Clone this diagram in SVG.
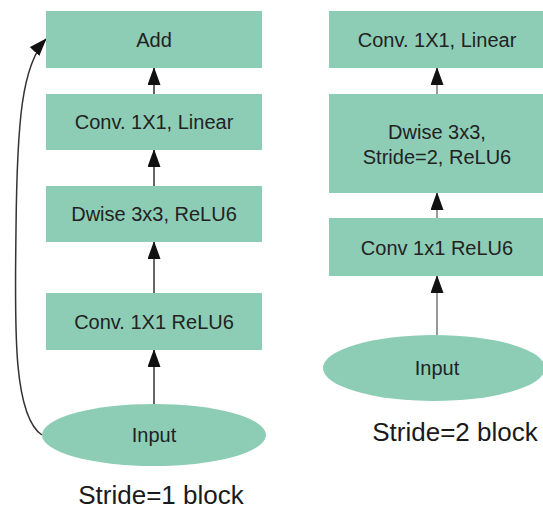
<svg xmlns="http://www.w3.org/2000/svg" width="543" height="509" viewBox="0 0 543 509">
  <style>
    .box { fill: #8dcdb6; }
    .lbl { font-family: "Liberation Sans", Arial, sans-serif; font-size: 20px; fill: #222; text-anchor: middle; dominant-baseline: central; }
    .cap { font-family: "Liberation Sans", Arial, sans-serif; font-size: 26px; fill: #1a1a1a; text-anchor: middle; }
    .edge { fill: none; stroke: #333; stroke-width: 1.5; }
    .edge2 { fill: none; stroke: #777; stroke-width: 1.5; }
  </style>
  <defs>
    <marker id="head" viewBox="0 0 18 13" refX="17" refY="6.5" markerWidth="18" markerHeight="13" markerUnits="userSpaceOnUse" orient="auto">
      <path d="M0,0 L18,6.5 L0,13 Z" fill="#111"/>
    </marker>
  </defs>

  <rect width="543" height="509" fill="#fff"/>

  <!-- connectors -->
  <g id="connectors">
    <!-- stride 1 block -->
    <path class="edge" d="M154,404 V350" marker-end="url(#head)"/>
    <path class="edge" d="M154,293 V242" marker-end="url(#head)"/>
    <path class="edge" d="M154,186 V150" marker-end="url(#head)"/>
    <path class="edge" d="M154,94 V68" marker-end="url(#head)"/>
    <!-- residual shortcut -->
    <path class="edge" d="M42,435 C12,415 15,320 16,230 C17,120 22,65 46,39" marker-end="url(#head)"/>
    <!-- stride 2 block -->
    <path class="edge2" d="M437,335 V276" marker-end="url(#head)"/>
    <path class="edge2" d="M437,218 V193" marker-end="url(#head)"/>
    <path class="edge2" d="M437,94 V68" marker-end="url(#head)"/>
  </g>

  <!-- stride 1 block -->
  <g id="s1-add">
    <rect class="box" x="46" y="11" width="216" height="57"/>
    <text class="lbl" x="154" y="40">Add</text>
  </g>
  <g id="s1-conv-linear">
    <rect class="box" x="46" y="94" width="216" height="56"/>
    <text class="lbl" x="154" y="122">Conv. 1X1, Linear</text>
  </g>
  <g id="s1-dwise">
    <rect class="box" x="46" y="186" width="216" height="56"/>
    <text class="lbl" x="154" y="214">Dwise 3x3, ReLU6</text>
  </g>
  <g id="s1-conv-relu">
    <rect class="box" x="46" y="293" width="216" height="57"/>
    <text class="lbl" x="154" y="322">Conv. 1X1 ReLU6</text>
  </g>
  <g id="s1-input">
    <ellipse class="box" cx="154" cy="435" rx="112" ry="31"/>
    <text class="lbl" x="154" y="435">Input</text>
  </g>
  <text class="cap" x="161" y="504">Stride=1 block</text>

  <!-- stride 2 block -->
  <g id="s2-conv-linear">
    <rect class="box" x="329" y="11" width="214" height="57"/>
    <text class="lbl" x="437" y="40">Conv. 1X1, Linear</text>
  </g>
  <g id="s2-dwise">
    <rect class="box" x="329" y="94" width="214" height="99"/>
    <text class="lbl" x="437" y="132">Dwise 3x3,</text>
    <text class="lbl" x="437" y="157">Stride=2, ReLU6</text>
  </g>
  <g id="s2-conv-relu">
    <rect class="box" x="329" y="218" width="214" height="58"/>
    <text class="lbl" x="437" y="248">Conv 1x1 ReLU6</text>
  </g>
  <g id="s2-input">
    <ellipse class="box" cx="434" cy="368" rx="111" ry="33"/>
    <text class="lbl" x="437" y="368">Input</text>
  </g>
  <text class="cap" x="455" y="441">Stride=2 block</text>
</svg>
